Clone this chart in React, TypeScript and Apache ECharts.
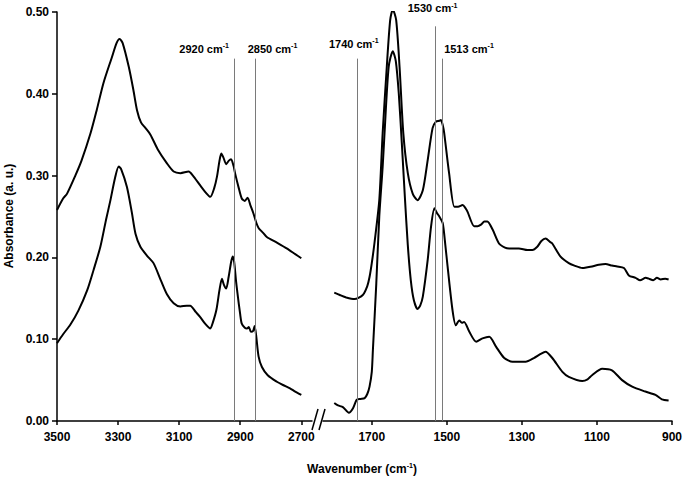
import React, { useEffect, useRef } from 'react';
import * as echarts from 'echarts';

// ---- Data (wavenumber cm-1, absorbance a.u.) ----
const leftTicks = [3500, 3300, 3100, 2900, 2700];
const rightTicks = [1700, 1500, 1300, 1100, 900];

const leftUpper: [number, number][] = [
  [3500, 0.258], [3480, 0.272], [3467, 0.278], [3440, 0.300], [3420, 0.318], [3390, 0.352],
  [3370, 0.380], [3348, 0.413], [3320, 0.445], [3305, 0.462], [3295, 0.467], [3285, 0.462],
  [3265, 0.433], [3250, 0.405], [3238, 0.380], [3225, 0.365], [3210, 0.358], [3194, 0.350],
  [3170, 0.332], [3140, 0.315], [3118, 0.305], [3096, 0.303], [3069, 0.305], [3055, 0.300],
  [3031, 0.288], [3010, 0.278], [2998, 0.274], [2985, 0.285], [2976, 0.299], [2968, 0.318],
  [2962, 0.327], [2955, 0.322], [2946, 0.314], [2938, 0.318], [2930, 0.320], [2922, 0.312],
  [2917, 0.303], [2905, 0.285], [2895, 0.272], [2885, 0.269], [2876, 0.273], [2866, 0.263],
  [2857, 0.254], [2848, 0.243], [2840, 0.236], [2825, 0.230], [2813, 0.225], [2780, 0.218],
  [2748, 0.211], [2720, 0.204], [2700, 0.199],
];

const leftLower: [number, number][] = [
  [3500, 0.095], [3480, 0.106], [3456, 0.118], [3430, 0.135], [3401, 0.160], [3380, 0.185],
  [3358, 0.213], [3340, 0.245], [3325, 0.270], [3310, 0.297], [3298, 0.311], [3290, 0.308],
  [3271, 0.286], [3255, 0.255], [3243, 0.229], [3227, 0.213], [3205, 0.202], [3184, 0.193],
  [3160, 0.172], [3140, 0.155], [3118, 0.144], [3096, 0.140], [3075, 0.141], [3064, 0.141],
  [3045, 0.133], [3031, 0.127], [3015, 0.119], [2998, 0.113], [2990, 0.120], [2978, 0.136],
  [2968, 0.160], [2960, 0.174], [2953, 0.166], [2946, 0.162], [2938, 0.176], [2930, 0.194],
  [2925, 0.201], [2920, 0.195], [2914, 0.172], [2909, 0.156], [2900, 0.130], [2895, 0.119],
  [2885, 0.114], [2878, 0.113], [2872, 0.115], [2865, 0.109], [2858, 0.110], [2853, 0.116],
  [2848, 0.105], [2840, 0.079], [2829, 0.066], [2810, 0.056], [2780, 0.048], [2760, 0.044],
  [2737, 0.040], [2720, 0.036], [2700, 0.032],
];

const rightUpper: [number, number][] = [
  [1800, 0.157], [1785, 0.154], [1768, 0.151], [1746, 0.149], [1724, 0.154], [1712, 0.165],
  [1706, 0.176], [1700, 0.193], [1693, 0.217], [1680, 0.270], [1671, 0.352], [1660, 0.433],
  [1651, 0.490], [1644, 0.503], [1635, 0.490], [1626, 0.433], [1616, 0.352], [1604, 0.303],
  [1591, 0.278], [1578, 0.270], [1564, 0.282], [1551, 0.319], [1538, 0.358], [1529, 0.366],
  [1520, 0.367], [1516, 0.368], [1511, 0.362], [1507, 0.352], [1494, 0.303], [1480, 0.262],
  [1470, 0.262], [1458, 0.264], [1450, 0.260], [1445, 0.256], [1427, 0.238], [1418, 0.238],
  [1409, 0.240], [1400, 0.244], [1392, 0.244], [1378, 0.234], [1361, 0.217], [1345, 0.212],
  [1334, 0.211], [1308, 0.211], [1285, 0.209], [1272, 0.209], [1259, 0.213], [1248, 0.220],
  [1237, 0.223], [1225, 0.219], [1219, 0.217], [1197, 0.201], [1175, 0.193], [1160, 0.190],
  [1139, 0.187], [1125, 0.188], [1113, 0.189], [1095, 0.191], [1077, 0.192], [1060, 0.190],
  [1046, 0.189], [1028, 0.187], [1015, 0.178], [997, 0.175], [985, 0.172], [970, 0.175],
  [962, 0.174], [950, 0.172], [940, 0.175], [930, 0.173], [918, 0.174], [909, 0.173],
];

const rightLower: [number, number][] = [
  [1800, 0.022], [1790, 0.019], [1777, 0.017], [1761, 0.010], [1750, 0.0155], [1740, 0.026],
  [1730, 0.027], [1719, 0.028], [1712, 0.033], [1706, 0.042], [1700, 0.060], [1697, 0.087],
  [1688, 0.168], [1680, 0.250], [1671, 0.311], [1666, 0.352], [1655, 0.433], [1644, 0.452],
  [1636, 0.440], [1628, 0.400], [1620, 0.340], [1612, 0.275], [1604, 0.215], [1596, 0.172],
  [1588, 0.148], [1578, 0.137], [1571, 0.141], [1564, 0.152], [1551, 0.197], [1542, 0.238],
  [1533, 0.260], [1526, 0.254], [1520, 0.250], [1511, 0.242], [1504, 0.215], [1498, 0.189],
  [1485, 0.136], [1476, 0.117], [1467, 0.123], [1460, 0.120], [1454, 0.121], [1440, 0.109],
  [1422, 0.097], [1405, 0.101], [1387, 0.103], [1369, 0.091], [1347, 0.077], [1325, 0.0725],
  [1290, 0.0725], [1268, 0.077], [1250, 0.082], [1237, 0.0847], [1219, 0.077], [1192, 0.060],
  [1175, 0.054], [1139, 0.049], [1125, 0.051], [1113, 0.056], [1086, 0.064], [1060, 0.062],
  [1033, 0.050], [1006, 0.042], [971, 0.036], [944, 0.032], [927, 0.0265], [909, 0.025],
];

const peakMarks = [2920, 2850, 1740, 1530, 1513];
const peakLineTops = [0.443, 0.443, 0.443, 0.4825, 0.443];
const peakLabels = ['2920 cm', '2850 cm', '1740 cm', '1530 cm', '1513 cm'];

const FONT = "'Liberation Sans', Arial, sans-serif";

export default function App() {
  const ref = useRef<HTMLDivElement>(null);

  useEffect(() => {
    const chart = echarts.init(ref.current!, null, { renderer: 'svg' });

    const axisLabelStyle = {
      color: '#000',
      fontFamily: FONT,
      fontWeight: 'bold',
      fontSize: 12,
    };
    const axisLineStyle = { show: true, lineStyle: { color: '#000', width: 1.5 } };
    const tickStyle = { show: true, length: 4, lineStyle: { color: '#000', width: 1.5 } };

    const lineSeries = (data: [number, number][], idx: number, markLines?: number[]) => ({
      type: 'line',
      xAxisIndex: idx,
      yAxisIndex: idx,
      data,
      showSymbol: false,
      smooth: 0.25,
      lineStyle: { color: '#000', width: 2 },
      silent: true,
      markLine: markLines
        ? {
            silent: true,
            symbol: 'none',
            label: { show: false },
            lineStyle: { color: '#7a7a7a', width: 1, type: 'solid' },
            data: markLines.map((i) => [
              { coord: [peakMarks[i], peakLineTops[i]] },
              { coord: [peakMarks[i], 0] },
            ]),
          }
        : undefined,
    });

    chart.setOption({
      animation: false,
      backgroundColor: '#fff',
      grid: [
        { left: 57, right: 373, top: 12, bottom: 57 },
        { left: 323, right: 12, top: 12, bottom: 57 },
      ],
      xAxis: [
        {
          type: 'value',
          gridIndex: 0,
          inverse: true,
          min: 2665,
          max: 3500,
          axisLine: axisLineStyle,
          axisTick: { ...tickStyle, customValues: leftTicks },
          axisLabel: { ...axisLabelStyle, margin: 10, customValues: leftTicks, formatter: (v: number) => String(v) },
          splitLine: { show: false },
        },
        {
          type: 'value',
          gridIndex: 1,
          inverse: true,
          min: 900,
          max: 1830,
          axisLine: axisLineStyle,
          axisTick: { ...tickStyle, customValues: rightTicks },
          axisLabel: { ...axisLabelStyle, margin: 10, customValues: rightTicks, formatter: (v: number) => String(v) },
          splitLine: { show: false },
        },
      ],
      yAxis: [
        {
          type: 'value',
          gridIndex: 0,
          min: 0,
          max: 0.5,
          interval: 0.1,
          axisLine: axisLineStyle,
          axisTick: { ...tickStyle, length: 5 },
          axisLabel: { ...axisLabelStyle, margin: 8, formatter: (v: number) => v.toFixed(2) },
          splitLine: { show: false },
        },
        {
          type: 'value',
          gridIndex: 1,
          min: 0,
          max: 0.5,
          show: false,
          splitLine: { show: false },
        },
      ],
      series: [
        lineSeries(leftUpper, 0),
        lineSeries(leftLower, 0, [0, 1]),
        lineSeries(rightUpper, 1),
        lineSeries(rightLower, 1, [2, 3, 4]),
      ],
    });

    const labelDx = [-30, 17, -3, -3, 27];
    const labelDy = [-10, -10, -15, -18, -10];
    const peakTexts = peakMarks.map((wn, i) => {
      const axis = wn > 2000 ? 0 : 1;
      const px = chart.convertToPixel({ xAxisIndex: axis } as any, wn) as number;
      const py = chart.convertToPixel({ yAxisIndex: axis } as any, peakLineTops[i]) as number;
      return {
        type: 'text',
        x: px + labelDx[i],
        y: py + labelDy[i],
        silent: true,
        style: {
          text: `{b|${peakLabels[i]}}{s|-1}`,
          align: 'center',
          verticalAlign: 'middle',
          rich: {
            b: { fontFamily: FONT, fontWeight: 'bold', fontSize: 11, lineHeight: 13, fill: '#000' },
            s: { fontFamily: FONT, fontWeight: 'bold', fontSize: 7, lineHeight: 8, verticalAlign: 'top', fill: '#000' },
          },
        },
      };
    });

    chart.setOption({
      graphic: [
        // axis break marks
        { type: 'line', silent: true, shape: { x1: 312, y1: 430, x2: 318, y2: 409 }, style: { stroke: '#000', lineWidth: 1.5 } },
        { type: 'line', silent: true, shape: { x1: 319, y1: 430, x2: 325, y2: 409 }, style: { stroke: '#000', lineWidth: 1.5 } },
        // axis titles
        {
          type: 'text',
          x: 362,
          y: 469,
          silent: true,
          style: {
            text: '{b|Wavenumber (cm}{s|-1}{b|)}',
            align: 'center',
            verticalAlign: 'middle',
            rich: {
              b: { fontFamily: FONT, fontWeight: 'bold', fontSize: 12, lineHeight: 14, fill: '#000' },
              s: { fontFamily: FONT, fontWeight: 'bold', fontSize: 7, lineHeight: 8, verticalAlign: 'top', fill: '#000' },
            },
          },
        },
        {
          type: 'text',
          x: 9,
          y: 216,
          rotation: Math.PI / 2,
          silent: true,
          style: {
            text: 'Absorbance (a. u.)',
            align: 'center',
            verticalAlign: 'middle',
            fontFamily: FONT,
            fontWeight: 'bold',
            fontSize: 12,
            fill: '#000',
          },
        },
        ...peakTexts,
      ],
    });

    return () => chart.dispose();
  }, []);

  return (
    <div
      ref={ref}
      style={{ position: 'fixed', left: 0, top: 0, width: 685, height: 478, background: '#fff' }}
    />
  );
}
